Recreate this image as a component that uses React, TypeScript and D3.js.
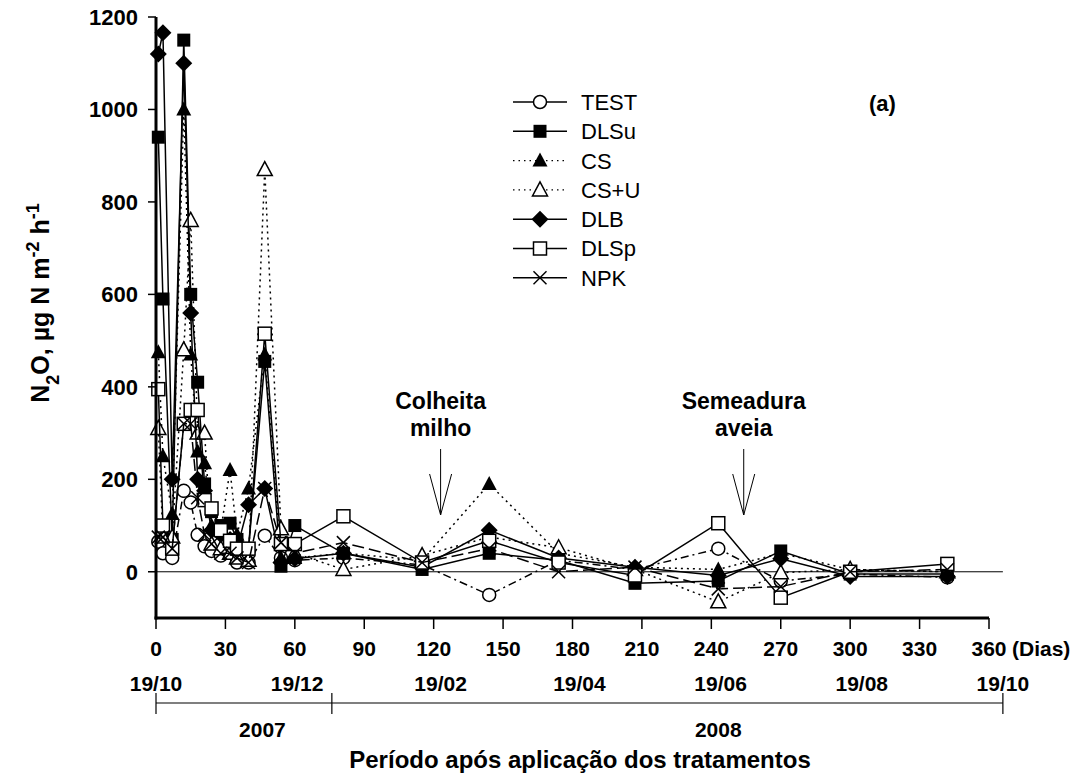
import React from "react";
import * as d3 from "d3";

const days = [1, 3, 7, 12, 15, 18, 21, 24, 28, 32, 35, 40, 47, 54, 60, 81, 115, 144, 174, 207, 243, 270, 300, 342];

const TEST = [65, 40, 30, 175, 150, 80, 55, 45, 35, 50, 20, 20, 78, 30, 25, 30, 15, -50, 25, 5, 50, -20, -5, -12];
const DLSu = [940, 590, 70, 1150, 600, 410, 190, 130, 100, 105, 70, 50, 455, 12, 100, 40, 5, 40, 25, -25, -20, 45, -5, -5];
const CS = [475, 250, 125, 1000, 470, 260, 235, 100, 90, 220, 80, 180, 470, 30, 30, 40, 25, 190, 40, 10, 5, 40, 5, 0];
const CSU = [310, 75, 75, 480, 760, 300, 300, 60, 50, 40, 30, 25, 870, 93, 40, 5, 35, 75, 52, 5, -65, -2, 5, 0];
const DLB = [1120, 1166, 200, 1100, 560, 200, 175, 90, 80, 70, 50, 145, 180, 20, 28, 40, 10, 90, 30, 10, -8, 28, -10, -10];
const DLSp = [395, 100, 50, 320, 350, 350, 155, 137, 90, 67, 50, 50, 515, 60, 60, 120, 20, 67, 20, -8, 105, -56, 0, 17];
const NPK = [75, 75, 50, 320, 320, 160, 80, 60, 40, 40, 30, 20, 180, 63, 40, 63, 20, 50, 0, 10, -37, -32, 0, 5];

const seriesNames = ["TEST", "DLSu", "CS", "CS+U", "DLB", "DLSp", "NPK"];
const seriesValues = [TEST, DLSu, CS, CSU, DLB, DLSp, NPK];
const seriesMarkers = ["circleOpen", "squareFilled", "triFilled", "triOpen", "diamond", "squareOpen", "cross"];
const seriesDash = ["8,4,2,4", null, "2,4", "2,4", null, null, "12,5"];

const yTicks = [0, 200, 400, 600, 800, 1000, 1200];
const xTicks = [0, 30, 60, 90, 120, 150, 180, 210, 240, 270, 300, 330, 360];
const dateLabels = ["19/10", "19/12", "19/02", "19/04", "19/06", "19/08", "19/10"];
const dateDays = [0, 61, 123, 183, 244, 305, 366];
const yearLabels = ["2007", "2008"];
const yearDays = [46, 243];
const yearBreaks = [0, 76, 366];
const annotations = [
  { day: 123, lines: ["Colheita", "milho"] },
  { day: 254, lines: ["Semeadura", "aveia"] },
];

const FONT = "'Liberation Sans', Arial, Helvetica, sans-serif";

function Marker({ type, x, y }: { type: string; x: number; y: number }) {
  const s = 6.5;
  switch (type) {
    case "circleOpen":
      return <circle cx={x} cy={y} r={6.5} fill="white" stroke="black" strokeWidth={1.5} />;
    case "squareFilled":
      return <rect x={x - s} y={y - s} width={2 * s} height={2 * s} fill="black" />;
    case "squareOpen":
      return <rect x={x - s} y={y - s} width={2 * s} height={2 * s} fill="white" stroke="black" strokeWidth={1.5} />;
    case "triFilled":
      return <path d={`M${x},${y - 8}L${x + 7.5},${y + 6}L${x - 7.5},${y + 6}Z`} fill="black" />;
    case "triOpen":
      return <path d={`M${x},${y - 8}L${x + 7.5},${y + 6}L${x - 7.5},${y + 6}Z`} fill="white" stroke="black" strokeWidth={1.5} />;
    case "diamond":
      return <path d={`M${x},${y - 8.5}L${x + 8.5},${y}L${x},${y + 8.5}L${x - 8.5},${y}Z`} fill="black" />;
    case "cross":
      return (
        <g stroke="black" strokeWidth={1.5}>
          <line x1={x - 6.5} y1={y - 6.5} x2={x + 6.5} y2={y + 6.5} />
          <line x1={x - 6.5} y1={y + 6.5} x2={x + 6.5} y2={y - 6.5} />
        </g>
      );
    default:
      return null;
  }
}

export default function App() {
  const W = 1082, H = 776;
  const x = d3.scaleLinear().domain([0, 360]).range([156, 989]);
  const y = d3.scaleLinear().domain([-100, 1200]).range([618, 17]);
  const line = d3
    .line<[number, number]>()
    .x((d) => x(d[0]))
    .y((d) => y(d[1]));

  const legendX = 513;
  const legendY0 = 102;
  const legendDy = 29.3;

  return (
    <svg width={W} height={H} style={{ position: "absolute", left: 0, top: 0, background: "white" }} fontFamily={FONT}>
      <rect width={W} height={H} fill="white" />
      {/* zero line */}
      <line x1={x(0)} x2={x(366)} y1={y(0)} y2={y(0)} stroke="black" strokeWidth={1} />

      {/* series */}
      {seriesValues.map((vals, i) => {
        const pts = days.map((d, j) => [d, vals[j]] as [number, number]);
        return (
          <g key={seriesNames[i]}>
            <path
              d={line(pts) || ""}
              fill="none"
              stroke="black"
              strokeWidth={1.5}
              strokeDasharray={seriesDash[i] || undefined}
            />
            {pts.map((p, j) => (
              <Marker key={j} type={seriesMarkers[i]} x={x(p[0])} y={y(p[1])} />
            ))}
          </g>
        );
      })}

      {/* axes */}
      <line x1={156} x2={156} y1={y(1200)} y2={619.5} stroke="black" strokeWidth={3} />
      <line x1={154.5} x2={x(360)} y1={618} y2={618} stroke="black" strokeWidth={3} />
      {yTicks.map((t) => (
        <g key={t}>
          <line x1={148} x2={156} y1={y(t)} y2={y(t)} stroke="black" strokeWidth={1.5} />
          <text x={138} y={y(t)} dy="0.36em" textAnchor="end" fontSize={22} fontWeight="bold">
            {t}
          </text>
        </g>
      ))}
      {xTicks.map((t) => (
        <g key={t}>
          <line x1={x(t)} x2={x(t)} y1={618} y2={629} stroke="black" strokeWidth={1.5} />
          <text x={x(t)} y={656} textAnchor="middle" fontSize={21} fontWeight="bold">
            {t}
          </text>
        </g>
      ))}
      <text x={x(360) + 23} y={656} fontSize={21} fontWeight="bold">(Dias)</text>

      {dateLabels.map((lab, i) => (
        <text key={i} x={x(dateDays[i])} y={691} textAnchor="middle" fontSize={21} fontWeight="bold">
          {lab}
        </text>
      ))}
      <line x1={x(0)} x2={x(366)} y1={703} y2={703} stroke="black" strokeWidth={1.2} />
      {yearBreaks.map((d, i) => (
        <line key={i} x1={x(d)} x2={x(d)} y1={693} y2={714} stroke="black" strokeWidth={1.2} />
      ))}
      {yearLabels.map((lab, i) => (
        <text key={lab} x={x(yearDays[i])} y={737} textAnchor="middle" fontSize={21} fontWeight="bold">
          {lab}
        </text>
      ))}
      <text x={580} y={768} textAnchor="middle" fontSize={24} fontWeight="bold">
        Período após aplicação dos tratamentos
      </text>

      {/* y title */}
      <text transform="translate(49,303) rotate(-90)" textAnchor="middle" fontSize={25} fontWeight="bold">
        N<tspan baselineShift="sub" fontSize={18}>2</tspan>
        <tspan>O, µg N m</tspan>
        <tspan baselineShift="super" fontSize={18}>-2</tspan>
        <tspan> h</tspan>
        <tspan baselineShift="super" fontSize={18}>-1</tspan>
      </text>

      {/* annotations */}
      {annotations.map((a) => {
        const ax = x(a.day);
        return (
          <g key={a.lines[0]}>
            {a.lines.map((l, k) => (
              <text key={k} x={ax} y={409 + k * 27} textAnchor="middle" fontSize={23} fontWeight="bold">
                {l}
              </text>
            ))}
            <line x1={ax} x2={ax} y1={449} y2={515} stroke="black" strokeWidth={1} />
            <path d={`M${ax - 11},${474}L${ax},${515}L${ax + 11},${474}`} fill="none" stroke="black" strokeWidth={1} />
          </g>
        );
      })}

      <text x={869} y={111} fontSize={22} fontWeight="bold">(a)</text>

      {/* legend */}
      {seriesNames.map((n, i) => {
        const ly = legendY0 + i * legendDy;
        const dotted = seriesDash[i] === "2,4";
        return (
          <g key={n}>
            <line
              x1={legendX}
              x2={legendX + 54}
              y1={ly}
              y2={ly}
              stroke="black"
              strokeWidth={dotted ? 1.2 : 1.5}
              strokeDasharray={dotted ? "1.5,4" : undefined}
            />
            <Marker type={seriesMarkers[i]} x={legendX + 27} y={ly} />
            <text x={581} y={ly} dy="0.36em" fontSize={22}>
              {n}
            </text>
          </g>
        );
      })}
    </svg>
  );
}
